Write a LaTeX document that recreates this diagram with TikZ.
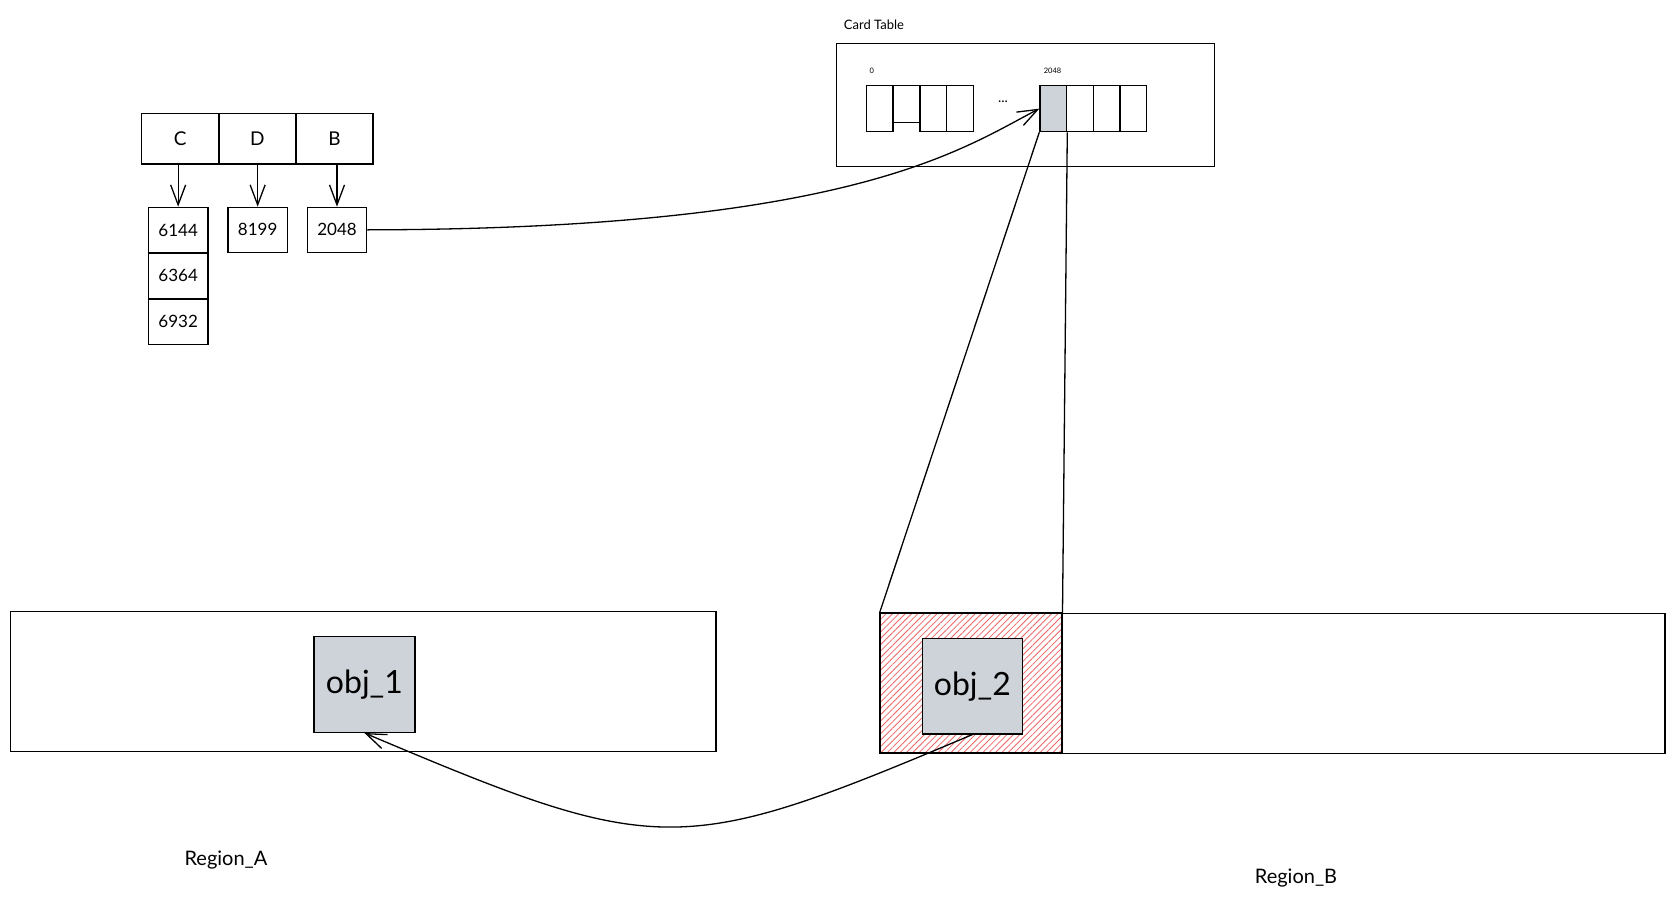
\documentclass[tikz,border=0pt]{standalone}
\usepackage{fontspec}
\setmainfont{Lato}
\usepackage{xcolor}
\usetikzlibrary{arrows.meta,patterns.meta,positioning,calc}
\definecolor{objgray}{RGB}{206,210,217}
\definecolor{hatchred}{RGB}{236,100,100}

\begin{document}
\begin{tikzpicture}[x=1pt,y=-1pt,line width=1.3pt,
  box/.style={draw,inner sep=0pt,anchor=north west},
  hdr/.style={box,minimum height=50.6pt,font=\fontsize{19}{22}\selectfont},
  slot/.style={box,minimum height=45.6pt,font=\fontsize{17}{20}\selectfont},
  card/.style={box,minimum width=26.7pt,minimum height=46pt},
  obj/.style={box,fill=objgray,font=\fontsize{32}{38}\selectfont},
  barb/.style={-{Straight Barb[length=20pt,width=15pt]}}]
\useasboundingbox (0,0) rectangle (1674,908);
% ---- remembered set ----
\node[hdr,minimum width=77.3pt] (hdrC) at (141,112.7) {C};
\node[hdr,minimum width=77pt] (hdrD) at (218.3,112.7) {D};
\node[hdr,minimum width=77pt] (hdrB) at (295.3,112.7) {B};
\node[slot,minimum width=59.6pt] (c6144) at (147.7,206.7) {6144};
\node[slot,minimum width=59.6pt] (c6364) at (147.7,252.3) {6364};
\node[slot,minimum width=59.6pt] (c6932) at (147.7,298.3) {6932};
\node[slot,minimum width=59.4pt,minimum height=45pt] (d8199) at (227.3,206.7) {8199};
\node[slot,minimum width=59.3pt,minimum height=45pt] (b2048) at (306.7,206.7) {2048};
\draw[barb] (c6144.north |- hdrC.south) -- (c6144.north);
\draw[barb] (d8199.north |- hdrD.south) -- (d8199.north);
\draw[barb] (b2048.north |- hdrB.south) -- (b2048.north);
% ---- card table ----
\node[font=\fontsize{13}{15}\selectfont,anchor=west] (cardlbl) at (840,25) {Card Table};
\node[box,minimum width=378pt,minimum height=123pt] (cardtab) at (836,42.7) {};
\node[card] (card0) at (865.7,85) {};
\node[card,minimum height=37pt] (card1) at (892.3,85) {};
\node[card] (card2) at (919.3,85) {};
\node[card] (card3) at (946,85) {};
\node[font=\fontsize{14}{16}\selectfont] (dots) at (1003,102) {...};
\node[card,fill=objgray] (card2048) at (1039.3,85) {};
\node[card] (card5) at (1066,85) {};
\node[card] (card6) at (1092.7,85) {};
\node[card] (card7) at (1119.3,85) {};
\node[font=\fontsize{7.5}{9}\selectfont] (idx0) at (871.7,71) {0};
\node[font=\fontsize{7.5}{9}\selectfont] (idx2048) at (1052.5,71) {2048};
% ---- regions ----
\node[box,minimum width=705.7pt,minimum height=139.8pt] (regA) at (9.6,610.7) {};
\node[obj,minimum width=101pt,minimum height=96pt] (obj1) at (313.3,635.7) {obj\_1};
\node[box,minimum width=784.7pt,minimum height=140pt] (regB) at (879.7,612.5) {};
\node[box,minimum width=182pt,minimum height=140pt,
  pattern={Lines[angle=45,distance=4.5pt,line width=0.8pt]},pattern color=hatchred] (dirty) at (879.7,612.5) {};
\node[obj,minimum width=100pt,minimum height=95.6pt] (obj2) at (921.7,637.7) {obj\_2};
\node[font=\fontsize{20}{24}\selectfont] (lblA) at (226,860) {Region\_A};
\node[font=\fontsize{20}{24}\selectfont] (lblB) at (1296,877.6) {Region\_B};
% ---- connectors ----
\draw[barb] (b2048.east) .. controls (850,229) and (960,150) .. (card2048.west);
\draw (card2048.south west) -- (dirty.north west);
\draw (card2048.south east) -- (dirty.north east);
\draw[barb] (obj2.south) .. controls (680,858) and (660,858) .. (obj1.south);
\end{tikzpicture}
\end{document}
